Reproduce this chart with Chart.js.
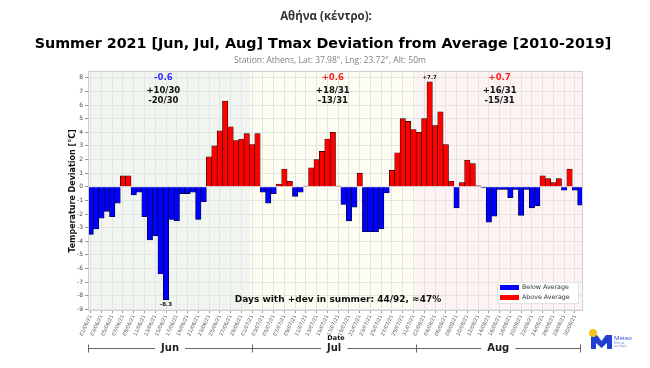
<!DOCTYPE html>
<html>
<head>
<meta charset="utf-8">
<script src="https://cdn.jsdelivr.net/npm/chart.js@4.4.0/dist/chart.umd.min.js"></script>
<style>
	html, body { margin: 0; padding: 0; background: #fff; }
	#wrap { width: 650px; height: 368px; }
</style>
</head>
<body>
<div id="wrap"><canvas id="chart" width="650" height="368"></canvas></div>
<script>
// daily Tmax deviation from the 2010-2019 average, Athens centre
const june_dev = [-3.5, -3.1, -2.3, -1.8, -2.2, -1.2, 0.8, 0.8, -0.6, -0.4, -2.2, -3.9, -3.6, -6.4, -8.3, -2.4, -2.5, -0.5, -0.5, -0.4, -2.4, -1.1, 2.2, 3.0, 4.1, 6.3, 4.4, 3.4, 3.5, 3.9];
const july_dev = [3.1, 3.9, -0.4, -1.2, -0.5, 0.2, 1.3, 0.4, -0.7, -0.4, 0.05, 1.4, 2.0, 2.6, 3.5, 4.0, 0.05, -1.3, -2.5, -1.5, 1.0, -3.3, -3.3, -3.3, -3.1, -0.45, 1.2, 2.5, 5.0, 4.8, 4.2];
const august_dev = [4.0, 5.0, 7.7, 4.5, 5.5, 3.1, 0.4, -1.55, 0.3, 1.95, 1.7, 0.07, -0.05, -2.6, -2.15, -0.2, -0.2, -0.8, -0.2, -2.1, -0.2, -1.55, -1.4, 0.8, 0.6, 0.3, 0.6, -0.25, 1.3, -0.25, -1.35];

const month_names = ["Jun", "Jul", "Aug"];
const month_numbers = ["06", "07", "08"];
const month_mean = ["-0.6", "+0.6", "+0.7"];
const month_plus = ["+10/30", "+18/31", "+16/31"];
const month_minus = ["-20/30", "-13/31", "-15/31"];
const y_ticks = [-9, -8, -7, -6, -5, -4, -3, -2, -1, 0, 1, 2, 3, 4, 5, 6, 7, 8];

const months = [june_dev, july_dev, august_dev];
let labels = [];
let values = [];
months.forEach((m, mi) => {
	m.forEach((v, d) => {
		labels.push(String(d + 1).padStart(2, "0") + "/" + month_numbers[mi] + "/21");
		values.push(v);
	});
});

const FONT = "'DejaVu Sans', sans-serif";

// shading, annotations, legend, month brackets, logo
const decorations = {
	id: "decorations",
	beforeDraw(chart) {
		let ctx = chart.ctx;
		let a = chart.chartArea;
		let x = chart.scales.x;
		ctx.save();
		ctx.fillStyle = "#fff";
		ctx.fillRect(0, 0, chart.width, chart.height);
		let b1 = x.getPixelForValue(29.7);
		let b2 = x.getPixelForValue(60.2);
		ctx.fillStyle = "#f0f6ef";
		ctx.fillRect(a.left, a.top, b1 - a.left, a.bottom - a.top);
		ctx.fillStyle = "#fefdf1";
		ctx.fillRect(b1, a.top, b2 - b1, a.bottom - a.top);
		ctx.fillStyle = "#fdf3f2";
		ctx.fillRect(b2, a.top, a.right - b2, a.bottom - a.top);
		ctx.restore();
	},
	afterDraw(chart) {
		let ctx = chart.ctx;
		let a = chart.chartArea;
		let x = chart.scales.x;
		let y = chart.scales.y;
		ctx.save();

		ctx.strokeStyle = "#cfcfcf";
		ctx.lineWidth = 1;
		ctx.strokeRect(a.left + 0.5, a.top + 0.5, a.right - a.left - 1, a.bottom - a.top - 1);

		ctx.textAlign = "center";
		ctx.textBaseline = "middle";
		ctx.fillStyle = "#333";
		ctx.font = "bold 11.5px 'Open Sans', sans-serif";
		ctx.fillText("Αθήνα (κέντρο):", 326, 17);
		ctx.fillStyle = "#000";
		ctx.font = "bold 14.3px " + FONT;
		ctx.fillText("Summer 2021 [Jun, Jul, Aug] Tmax Deviation from Average [2010-2019]", 323, 44);
		ctx.fillStyle = "#808080";
		ctx.font = "8.5px 'Open Sans', sans-serif";
		ctx.fillText("Station: Athens, Lat: 37.98°, Lng: 23.72°, Alt: 50m", 330, 61);

		// month summaries
		let anchors = [13.5, 45, 76];
		month_names.forEach((m, i) => {
			let px = x.getPixelForValue(anchors[i]);
			ctx.font = "bold 8.5px " + FONT;
			ctx.fillStyle = month_mean[i][0] === "-" ? "#2a2aff" : "#ff2020";
			ctx.fillText(month_mean[i], px, 78);
			ctx.fillStyle = "#111";
			ctx.fillText(month_plus[i], px, 90.5);
			ctx.fillText(month_minus[i], px, 100.5);
		});

		// extremes
		let imax = values.indexOf(Math.max(...values));
		let imin = values.indexOf(Math.min(...values));
		ctx.font = "bold 5.5px " + FONT;
		ctx.fillStyle = "#111";
		ctx.fillText("+" + values[imax].toFixed(1), x.getPixelForValue(imax), y.getPixelForValue(values[imax]) - 4);
		ctx.fillText(values[imin].toFixed(1), x.getPixelForValue(imin), y.getPixelForValue(values[imin]) + 5);

		let npos = values.filter(v => v > 0).length;
		ctx.font = "bold 9px " + FONT;
		ctx.fillText("Days with +dev in summer: " + npos + "/" + values.length + ", ≈" + Math.floor(100 * npos / values.length) + "%", 338, 300);

		// legend
		ctx.fillStyle = "rgba(255,255,255,0.9)";
		ctx.fillRect(497, 282, 82, 22);
		ctx.strokeStyle = "#e2e2e2";
		ctx.strokeRect(497.5, 282.5, 81, 21);
		ctx.fillStyle = "#0000ff";
		ctx.fillRect(500, 285, 19, 5);
		ctx.fillStyle = "#ff0000";
		ctx.fillRect(500, 295, 19, 5);
		ctx.textAlign = "left";
		ctx.fillStyle = "#333";
		ctx.font = "6.3px " + FONT;
		ctx.fillText("Below Average", 522, 287.5);
		ctx.fillText("Above Average", 522, 297.5);

		// Date + month brackets
		ctx.textAlign = "center";
		ctx.fillStyle = "#111";
		ctx.font = "bold 6.5px " + FONT;
		ctx.fillText("Date", 336, 338);
		let edges = [x.getPixelForValue(-0.5), x.getPixelForValue(30), x.getPixelForValue(60.5), x.getPixelForValue(91)];
		let ly = 348.5;
		ctx.strokeStyle = "#666";
		ctx.lineWidth = 1;
		ctx.font = "bold 10px " + FONT;
		month_names.forEach((m, i) => {
			let x0 = edges[i], x1 = edges[i + 1];
			let cx = (x0 + x1) / 2;
			let half = ctx.measureText(m).width / 2 + 6;
			ctx.beginPath();
			ctx.moveTo(x0, ly); ctx.lineTo(cx - half, ly);
			ctx.moveTo(cx + half, ly); ctx.lineTo(x1, ly);
			ctx.stroke();
			ctx.fillStyle = "#222";
			ctx.fillText(m, cx, ly);
		});
		edges.forEach(e => {
			ctx.beginPath();
			ctx.moveTo(Math.round(e) + 0.5, ly - 4);
			ctx.lineTo(Math.round(e) + 0.5, ly + 4);
			ctx.stroke();
		});

		// logo
		ctx.fillStyle = "#1f3fd0";
		ctx.beginPath();
		ctx.moveTo(591, 349); ctx.lineTo(591, 335); ctx.lineTo(597, 335); ctx.lineTo(601.5, 341);
		ctx.lineTo(606, 335); ctx.lineTo(612, 335); ctx.lineTo(612, 349); ctx.lineTo(607, 349);
		ctx.lineTo(607, 343); ctx.lineTo(601.5, 348); ctx.lineTo(596, 343); ctx.lineTo(596, 349);
		ctx.closePath();
		ctx.fill();
		ctx.fillStyle = "#f5c518";
		ctx.beginPath();
		ctx.arc(593, 333, 4, 0, Math.PI * 2);
		ctx.fill();
		ctx.textAlign = "left";
		ctx.fillStyle = "#2a4ad8";
		ctx.font = "6px 'Open Sans', sans-serif";
		ctx.fillText("Meteo", 614, 338);
		ctx.font = "2.8px 'Open Sans', sans-serif";
		ctx.fillStyle = "#6a7fe0";
		ctx.fillText("Όλα για", 614, 343);
		ctx.fillText("τον καιρό", 614, 346);
		ctx.restore();
	}
};

const chart = new Chart(document.getElementById("chart"), {
	type: "bar",
	data: {
		labels: labels,
		datasets: [{
			data: values,
			backgroundColor: values.map(v => v >= 0 ? "#ff0000" : "#0000ff"),
			borderColor: "#000",
			borderWidth: 0.6,
			barPercentage: 1,
			categoryPercentage: 1
		}]
	},
	options: {
		responsive: false,
		animation: false,
		layout: { padding: { top: 71, left: 68, right: 67, bottom: 17 } },
		plugins: {
			legend: { display: false },
			tooltip: { enabled: false }
		},
		scales: {
			x: {
				offset: true,
				border: { display: false },
				grid: {
					offset: false,
					color: c => c.index % 2 === 0 ? "#e4e4e4" : "transparent",
					tickColor: c => c.index % 2 === 0 ? "#999" : "transparent",
					tickLength: 2
				},
				ticks: {
					autoSkip: false,
					maxRotation: 65,
					minRotation: 65,
					padding: 1,
					color: "#555",
					font: { family: FONT, size: 5 },
					callback: (v, i) => i % 2 === 0 ? labels[i] : ""
				},
				afterFit: s => { s.height = 40; }
			},
			y: {
				min: -9.12,
				max: 8.5,
				border: { display: false },
				afterBuildTicks: s => {
					let t = [];
					y_ticks.forEach(v => { t.push({ value: v }); t.push({ value: v + 0.5 }); });
					s.ticks = t;
				},
				grid: {
					color: "#e4e4e4",
					tickColor: c => Number.isInteger(c.tick.value) ? "#999" : "transparent",
					tickLength: 3
				},
				ticks: {
					color: "#444",
					padding: 2,
					font: { family: FONT, size: 6 },
					callback: v => Number.isInteger(v) ? String(v) : ""
				},
				title: {
					display: true,
					text: "Temperature Deviation [°C]",
					color: "#111",
					padding: 0,
					font: { family: FONT, size: 8, weight: "bold" }
				},
				afterFit: s => { s.width = 20; }
			}
		}
	},
	plugins: [decorations]
});
</script>
</body>
</html>
